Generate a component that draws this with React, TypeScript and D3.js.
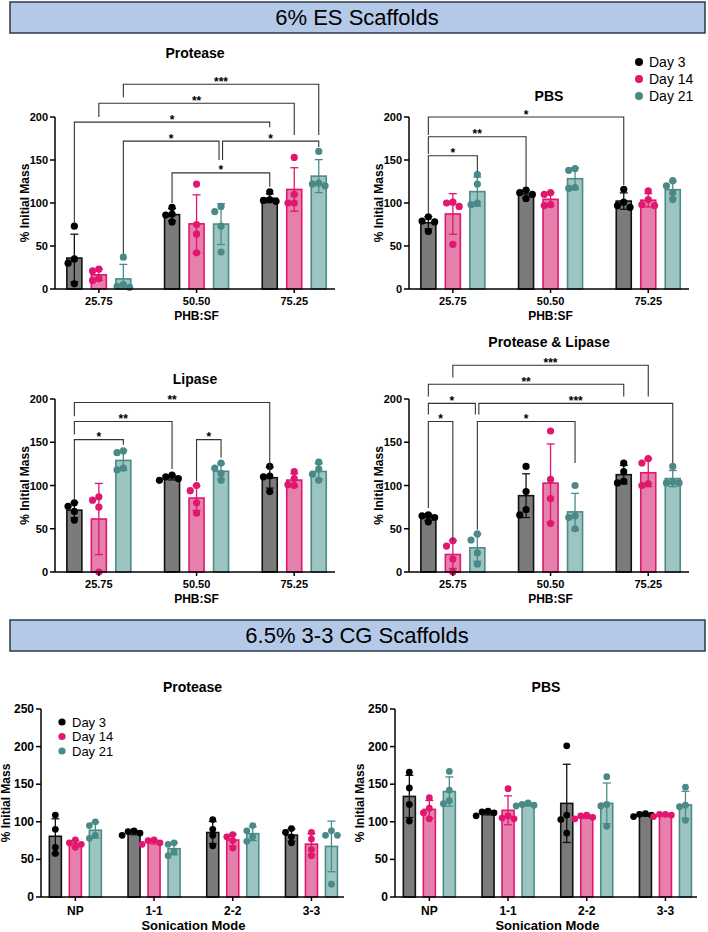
import React from 'react';
import * as d3 from 'd3';

const FONT = '"Liberation Sans", Arial, sans-serif';

const DAYS = ['Day 3', 'Day 14', 'Day 21'];
const ES_GROUPS = ['25.75', '50.50', '75.25'];
const CG_GROUPS = ['NP', '1-1', '2-2', '3-3'];
const ES_TICKS = [0, 50, 100, 150, 200];
const CG_TICKS = [0, 50, 100, 150, 200, 250];

// replicate values, [group][replicate]
const esProteaseDay3 = [[73, 35, 30, 6], [95, 87, 86, 78], [113, 104, 103, 102]];
const esProteaseDay14 = [[23, 21, 12, 10], [122, 75, 64, 42], [153, 110, 100, 100]];
const esProteaseDay21 = [[37, 5, 3, 2], [96, 90, 73, 43], [160, 123, 122, 120]];

const esPbsDay3 = [[84, 79, 78, 67], [115, 112, 110, 105], [116, 101, 97, 95]];
const esPbsDay14 = [[101, 100, 96, 52], [112, 110, 98, 97], [114, 104, 98, 97]];
const esPbsDay21 = [[133, 122, 100, 98], [140, 138, 118, 117], [126, 120, 112, 104]];

const esLipaseDay3 = [[80, 76, 70, 60], [112, 110, 108, 106], [122, 111, 110, 93]];
const esLipaseDay14 = [[87, 83, 75, 0], [100, 94, 80, 68], [116, 108, 101, 100]];
const esLipaseDay21 = [[140, 138, 120, 118], [126, 120, 114, 106], [127, 119, 113, 106]];

const esBothDay3 = [[66, 65, 63, 58], [122, 93, 72, 66], [126, 116, 105, 103]];
const esBothDay14 = [[36, 30, 15, 0], [163, 107, 85, 56], [131, 126, 102, 100]];
const esBothDay21 = [[44, 37, 22, 9], [100, 65, 63, 50], [122, 104, 103, 103]];

const cgProteaseDay3 = [[109, 90, 66, 58], [88, 87, 85, 82], [103, 90, 82, 68], [91, 86, 80, 72]];
const cgProteaseDay14 = [[76, 72, 70, 66], [76, 75, 72, 70], [83, 80, 75, 65], [86, 77, 63, 55]];
const cgProteaseDay21 = [[100, 95, 82, 78], [72, 70, 60, 55], [95, 88, 80, 74], [88, 82, 82, 17]];

const cgPbsDay3 = [[166, 145, 123, 101], [114, 113, 112, 108], [201, 109, 103, 85], [111, 110, 109, 107]];
const cgPbsDay14 = [[132, 118, 112, 104], [144, 108, 105, 104], [109, 108, 106, 104], [110, 110, 109, 107]];
const cgPbsDay21 = [[167, 142, 128, 124], [125, 123, 122, 121], [160, 123, 121, 94], [146, 122, 120, 102]];

// significance brackets: a/b = [group, day], y = bracket level, ya/yb = leg ends (data units)
type Bracket = { a: number[]; b: number[]; y: number; ya: number; yb: number; t: string; da?: number; db?: number };

const esProteaseSig: Bracket[] = [
  { a: [0, 2], b: [2, 2], y: 238, ya: 223, yb: 179, t: '***' },
  { a: [0, 1], b: [2, 1], y: 216, ya: 200, yb: 179, t: '**' },
  { a: [0, 0], b: [2, 0], y: 194, ya: 76, yb: 188, t: '*' },
  { a: [0, 2], b: [1, 2], y: 172, ya: 41, yb: 150, t: '*', db: -2 },
  { a: [1, 2], b: [2, 2], y: 172, ya: 150, yb: 165, t: '*', da: 1.5 },
  { a: [1, 0], b: [2, 0], y: 135, ya: 100, yb: 119, t: '*' },
];
const esPbsSig: Bracket[] = [
  { a: [0, 0], b: [2, 0], y: 200, ya: 179, yb: 121, t: '*' },
  { a: [0, 0], b: [1, 0], y: 177, ya: 157, yb: 119, t: '**' },
  { a: [0, 0], b: [0, 2], y: 155, ya: 88, yb: 136, t: '*' },
];
const esLipaseSig: Bracket[] = [
  { a: [0, 0], b: [2, 0], y: 196, ya: 180, yb: 118, t: '**' },
  { a: [0, 0], b: [1, 0], y: 174, ya: 159, yb: 119, t: '**' },
  { a: [0, 0], b: [0, 2], y: 153, ya: 84, yb: 147, t: '*' },
  { a: [1, 1], b: [1, 2], y: 153, ya: 105, yb: 132, t: '*' },
];
const esBothSig: Bracket[] = [
  { a: [0, 1], b: [2, 1], y: 239, ya: 225, yb: 203, t: '***' },
  { a: [0, 0], b: [2, 0], y: 217, ya: 203, yb: 203, t: '**' },
  { a: [0, 0], b: [0, 2], y: 195, ya: 182, yb: 182, t: '*', db: -2 },
  { a: [0, 2], b: [2, 2], y: 195, ya: 182, yb: 126, t: '***', da: 1.5 },
  { a: [0, 0], b: [0, 1], y: 174, ya: 74, yb: 37, t: '*' },
  { a: [0, 2], b: [1, 2], y: 174, ya: 49, yb: 126, t: '*' },
];

const FILL = ['#7b7b7b', '#e57fab', '#9cc4c1'];
const STROKE = ['#111111', '#e0166f', '#4d8b89'];
const DOT = ['#000000', '#e0166f', '#4a8987'];

type PanelProps = {
  title: string;
  titleY: number;
  groups: string[];
  series: number[][][];
  ticks: number[];
  axisX: number;
  axisEnd: number;
  y0: number;
  yTop: number;
  step: number;
  offset: number;
  barW: number;
  r: number;
  xTitle: string;
  big?: boolean;
  sig?: Bracket[];
};

function placeDots(vals: number[], y: d3.ScaleLinear<number, number>, r: number) {
  const gap = r * 1.75;
  const placed: { x: number; y: number }[] = [];
  return vals.map((v) => {
    const py = y(v);
    let px = 0;
    for (const c of [0, -1, 1, -2, 2]) {
      const cx = c * gap;
      if (placed.every((p) => Math.hypot(p.x - cx, p.y - py) >= gap)) {
        px = cx;
        break;
      }
    }
    placed.push({ x: px, y: py });
    return { v, dx: px, py };
  });
}

const Panel = (p: PanelProps) => {
  const yMax = p.ticks[p.ticks.length - 1];
  const y = d3.scaleLinear().domain([0, yMax]).range([p.y0, p.yTop]);
  const x = d3.scaleBand<string>().domain(p.groups)
    .range([p.axisX - 5, p.axisX - 5 + p.step * p.groups.length]);
  const inner = d3.scalePoint<string>().domain(DAYS).range([-p.offset, p.offset]);
  const cx = (g: number, s: number) => (x(p.groups[g]) as number) + x.bandwidth() / 2 + (inner(DAYS[s]) as number);
  const tickSize = p.big ? 12 : 11;

  return (
    <g>
      <text x={(p.axisX + p.axisEnd) / 2} y={p.titleY} textAnchor="middle"
        fontFamily={FONT} fontWeight="bold" fontSize={14}>{p.title}</text>

      {/* bars, error bars, dots */}
      {p.series.map((seriesVals, s) => (
        <g key={s}>
          {seriesVals.map((vals, g) => {
            const m = d3.mean(vals) as number;
            const sd = d3.deviation(vals) as number;
            const bx = cx(g, s);
            const lo = y(Math.max(0, m - sd));
            const hi = y(m + sd);
            return (
              <g key={g}>
                <rect x={bx - p.barW / 2} y={y(m)} width={p.barW} height={p.y0 - y(m)}
                  fill={FILL[s]} stroke={STROKE[s]} strokeWidth={1.6} />
                <g stroke={STROKE[s]} strokeWidth={1.3}>
                  <line x1={bx} x2={bx} y1={lo} y2={hi} />
                  <line x1={bx - 4} x2={bx + 4} y1={hi} y2={hi} />
                  <line x1={bx - 4} x2={bx + 4} y1={lo} y2={lo} />
                </g>
                {placeDots(vals, y, p.r).map((d, i) => (
                  <circle key={i} cx={bx + d.dx} cy={d.py} r={p.r} fill={DOT[s]} />
                ))}
              </g>
            );
          })}
        </g>
      ))}

      {/* axes */}
      <g stroke="#000" strokeWidth={1.5}>
        <line x1={p.axisX} x2={p.axisX} y1={p.yTop} y2={p.y0} />
        <line x1={p.axisX} x2={p.axisEnd} y1={p.y0} y2={p.y0} />
        {p.ticks.map((t) => (
          <line key={t} x1={p.axisX - 5} x2={p.axisX} y1={y(t)} y2={y(t)} />
        ))}
        {p.groups.map((g) => {
          const gx = (x(g) as number) + x.bandwidth() / 2;
          return <line key={g} x1={gx} x2={gx} y1={p.y0} y2={p.y0 + 4} />;
        })}
      </g>
      {p.ticks.map((t) => (
        <text key={t} x={p.axisX - 7} y={y(t) + 4} textAnchor="end" fontFamily={FONT}
          fontWeight="bold" fontSize={tickSize}>{t}</text>
      ))}
      {p.groups.map((g) => (
        <text key={g} x={(x(g) as number) + x.bandwidth() / 2} y={p.y0 + (p.big ? 18 : 16)}
          textAnchor="middle" fontFamily={FONT} fontWeight="bold" fontSize={tickSize}>{g}</text>
      ))}
      <text x={(x(p.groups[0]) as number) + p.step * p.groups.length / 2} y={p.y0 + (p.big ? 33 : 31)}
        textAnchor="middle" fontFamily={FONT} fontWeight="bold" fontSize={p.big ? 13 : 12}>{p.xTitle}</text>
      <text transform={`translate(${p.axisX - (p.big ? 31 : 26)},${(p.y0 + p.yTop) / 2}) rotate(-90)`}
        textAnchor="middle" fontFamily={FONT} fontWeight="bold" fontSize={12}>% Initial Mass</text>

      {/* significance */}
      {(p.sig || []).map((b, i) => {
        const xa = cx(b.a[0], b.a[1]) + (b.da || 0);
        const xb = cx(b.b[0], b.b[1]) + (b.db || 0);
        const ly = y(b.y);
        return (
          <g key={i}>
            <path d={`M${xa},${y(b.ya)}V${ly}H${xb}V${y(b.yb)}`} fill="none" stroke="#333" strokeWidth={1.1} />
            <text x={(xa + xb) / 2} y={ly + 1.5} textAnchor="middle" fontFamily={FONT}
              fontWeight="bold" fontSize={12}>{b.t}</text>
          </g>
        );
      })}
    </g>
  );
};

const Legend = ({ x, y, gap, size, r }: { x: number; y: number; gap: number; size: number; r: number }) => (
  <g>
    {DAYS.map((d, i) => (
      <g key={d}>
        <circle cx={x} cy={y + i * gap} r={r} fill={DOT[i]} />
        <text x={x + 10} y={y + i * gap + size * 0.36} fontFamily={FONT} fontSize={size}>{d}</text>
      </g>
    ))}
  </g>
);

const Banner = ({ y, label }: { y: number; label: string }) => (
  <g>
    <rect x={10} y={y} width={695} height={31} fill="#b4c8e8" stroke="#2c3a48" strokeWidth={1.5} />
    <text x={357} y={y + 23} textAnchor="middle" fontFamily={FONT} fontSize={22}>{label}</text>
  </g>
);

const esBase = { groups: ES_GROUPS, ticks: ES_TICKS, step: 97.7, offset: 24.5, barW: 15, r: 3.6, xTitle: 'PHB:SF' };
const cgBase = { groups: CG_GROUPS, ticks: CG_TICKS, step: 78.7, offset: 20, barW: 12, r: 3.4, xTitle: 'Sonication Mode', big: true };

export default function App() {
  return (
    <svg width={708} height={932} style={{ position: 'absolute', left: 0, top: 0, background: '#fff' }}>
      <rect width={708} height={932} fill="#fff" />
      <Banner y={2} label="6% ES Scaffolds" />
      <Panel {...esBase} title="Protease" titleY={58} axisX={55} axisEnd={335} y0={289} yTop={117}
        series={[esProteaseDay3, esProteaseDay14, esProteaseDay21]} sig={esProteaseSig} />
      <Panel {...esBase} title="PBS" titleY={101} axisX={409} axisEnd={689} y0={289} yTop={117}
        series={[esPbsDay3, esPbsDay14, esPbsDay21]} sig={esPbsSig} />
      <Legend x={639} y={62} gap={17} size={14} r={4} />
      <Panel {...esBase} title="Lipase" titleY={384} axisX={55} axisEnd={335} y0={572} yTop={399}
        series={[esLipaseDay3, esLipaseDay14, esLipaseDay21]} sig={esLipaseSig} />
      <Panel {...esBase} title="Protease & Lipase" titleY={347} axisX={409} axisEnd={689} y0={572} yTop={399}
        series={[esBothDay3, esBothDay14, esBothDay21]} sig={esBothSig} />

      <Banner y={620} label="6.5% 3-3 CG Scaffolds" />
      <Panel {...cgBase} title="Protease" titleY={692} axisX={41} axisEnd={344} y0={897} yTop={709}
        series={[cgProteaseDay3, cgProteaseDay14, cgProteaseDay21]} />
      <Legend x={62} y={722} gap={14.5} size={13} r={3.6} />
      <Panel {...cgBase} title="PBS" titleY={692} axisX={395} axisEnd={697} y0={897} yTop={709}
        series={[cgPbsDay3, cgPbsDay14, cgPbsDay21]} />
    </svg>
  );
}
